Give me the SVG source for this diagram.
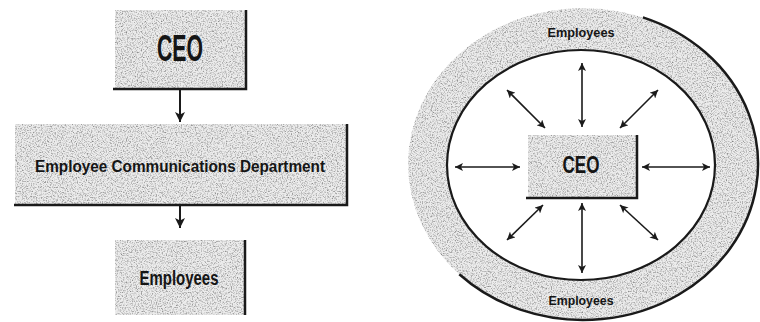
<svg xmlns="http://www.w3.org/2000/svg" width="760" height="322" viewBox="0 0 760 322">
  <style>
    .box { fill: #ececec; filter: url(#grain); }
    .edge { fill: none; stroke: #1a1a1a; stroke-width: 2.5; }
    .lbl { font-family: "Liberation Sans", Arial, sans-serif; font-weight: bold; fill: #151515; text-anchor: middle; }
    .conn1 { stroke: #1a1a1a; stroke-width: 2; fill: none; }
    .conn2 { stroke: #1a1a1a; stroke-width: 1.6; fill: none; }
  </style>
  <defs>
    <filter id="grain" x="0" y="0" width="100%" height="100%" color-interpolation-filters="sRGB">
      <feTurbulence type="fractalNoise" baseFrequency="0.8" numOctaves="3" seed="4" result="noise"/>
      <feColorMatrix in="noise" type="saturate" values="0" result="gray"/>
      <feComponentTransfer in="gray" result="g2">
        <feFuncR type="linear" slope="1.3" intercept="0.3"/>
        <feFuncG type="linear" slope="1.3" intercept="0.3"/>
        <feFuncB type="linear" slope="1.3" intercept="0.3"/>
        <feFuncA type="linear" slope="0" intercept="1"/>
      </feComponentTransfer>
      <feBlend in="SourceGraphic" in2="g2" mode="multiply" result="b"/>
      <feComposite in="b" in2="SourceGraphic" operator="in"/>
    </filter>
    <marker id="ahL" viewBox="0 0 10 10" refX="10" refY="5" markerWidth="10" markerHeight="10" markerUnits="userSpaceOnUse" orient="auto">
      <path d="M0,0 L10,5 L0,10 L2.5,5 z" fill="#1a1a1a"/>
    </marker>
    <marker id="ahR" viewBox="0 0 10 10" refX="10" refY="5" markerWidth="9" markerHeight="8" markerUnits="userSpaceOnUse" orient="auto-start-reverse">
      <path d="M0,0 L10,5 L0,10 L2.5,5 z" fill="#1a1a1a"/>
    </marker>
  </defs>
  <rect width="760" height="322" fill="#ffffff"/>

  <!-- Left: hierarchical chain -->
  <g id="left-ceo">
    <rect class="box" x="115" y="10" width="131" height="79"/>
    <polyline class="edge" points="246,10 246,89 113,89"/>
    <text class="lbl" x="180" y="61" font-size="36" textLength="46" lengthAdjust="spacingAndGlyphs">CEO</text>
  </g>
  <g id="left-ecd">
    <rect class="box" x="15" y="124" width="332" height="80"/>
    <polyline class="edge" points="347,124 347,205 14,205"/>
    <text class="lbl" x="180" y="172" font-size="17" textLength="290" lengthAdjust="spacingAndGlyphs">Employee Communications Department</text>
  </g>
  <g id="left-employees">
    <rect class="box" x="115" y="240" width="130" height="75"/>
    <polyline class="edge" points="245,240 245,315"/>
    <text class="lbl" x="179" y="285" font-size="20" textLength="79" lengthAdjust="spacingAndGlyphs">Employees</text>
  </g>

  <!-- Right: employees ring around CEO -->
  <g id="right-employees-ring">
    <ellipse class="box" cx="583" cy="164" rx="175" ry="156"/>
    <path class="edge" stroke-width="2" d="M642.9,17.4 A175,156 0 1 1 459.3,274.3"/>
    <ellipse cx="581" cy="165" rx="134" ry="115" fill="#ffffff" stroke="#1a1a1a" stroke-width="2.2"/>
    <text class="lbl" x="581" y="37" font-size="12.5" textLength="67" lengthAdjust="spacingAndGlyphs">Employees</text>
    <text class="lbl" x="581" y="305" font-size="12.5" textLength="65" lengthAdjust="spacingAndGlyphs">Employees</text>
  </g>
  <g id="right-ceo">
    <rect class="box" x="528" y="135" width="109" height="63"/>
    <polyline class="edge" points="637,135 637,198 526,198"/>
    <text class="lbl" x="581" y="173" font-size="24" textLength="37" lengthAdjust="spacingAndGlyphs">CEO</text>
  </g>

  <g id="connectors">
    <line class="conn1" x1="180" y1="90" x2="180" y2="122" marker-end="url(#ahL)"/>
    <line class="conn1" x1="180" y1="206" x2="180" y2="228" marker-end="url(#ahL)"/>

    <line class="conn2" x1="582" y1="63" x2="582" y2="127" marker-start="url(#ahR)" marker-end="url(#ahR)"/>
    <line class="conn2" x1="582" y1="203" x2="582" y2="273" marker-start="url(#ahR)" marker-end="url(#ahR)"/>
    <line class="conn2" x1="455" y1="167" x2="520" y2="167" marker-start="url(#ahR)" marker-end="url(#ahR)"/>
    <line class="conn2" x1="642" y1="167" x2="710" y2="167" marker-start="url(#ahR)" marker-end="url(#ahR)"/>
    <line class="conn2" x1="507" y1="90" x2="545" y2="128" marker-start="url(#ahR)" marker-end="url(#ahR)"/>
    <line class="conn2" x1="658" y1="90" x2="620" y2="128" marker-start="url(#ahR)" marker-end="url(#ahR)"/>
    <line class="conn2" x1="543" y1="205" x2="507" y2="240" marker-start="url(#ahR)" marker-end="url(#ahR)"/>
    <line class="conn2" x1="620" y1="205" x2="658" y2="240" marker-start="url(#ahR)" marker-end="url(#ahR)"/>
  </g>
</svg>
